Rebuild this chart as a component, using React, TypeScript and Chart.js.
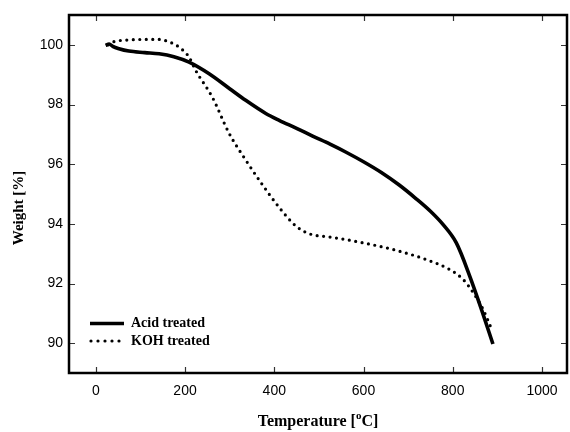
import React, { useEffect, useRef } from "react";
import { Chart, registerables } from "chart.js";

Chart.register(...registerables);

const acidX = [22, 30, 38, 52, 74, 110, 142, 175, 209, 254, 300, 336, 381, 411, 450, 486, 525, 561, 600, 640, 680, 718, 750, 778, 808, 838, 865, 890];
const acidY = [99.98, 100.03, 99.95, 99.87, 99.79, 99.74, 99.7, 99.6, 99.42, 99.03, 98.53, 98.14, 97.7, 97.47, 97.2, 96.94, 96.67, 96.4, 96.08, 95.72, 95.3, 94.84, 94.42, 93.98, 93.36, 92.25, 91.1, 89.97];

const kohX = [28, 36, 44, 70, 110, 142, 164, 187, 209, 224, 261, 299, 336, 374, 411, 449, 480, 524, 561, 600, 666, 741, 793, 823, 846, 868, 887];
const kohY = [100.0, 100.08, 100.12, 100.16, 100.18, 100.18, 100.1, 99.92, 99.59, 99.14, 98.25, 97.03, 96.14, 95.3, 94.55, 93.92, 93.66, 93.56, 93.47, 93.36, 93.14, 92.8, 92.47, 92.14, 91.69, 91.13, 90.47];

const xTicks = [0, 200, 400, 600, 800, 1000];
const yTicks = [90, 92, 94, 96, 98, 100];
const seriesLabels = ["Acid treated", "KOH treated"];
const xTitle = "Temperature [";
const xTitleSup = "o";
const xTitleEnd = "C]";
const yTitle = "Weight [%]";

const toPts = (xs: number[], ys: number[]) => xs.map((x, i) => ({ x, y: ys[i] }));

const framePlugin = {
  id: "frame",
  afterDraw(chart: any) {
    const { ctx, chartArea: a } = chart;
    const sx = chart.scales.x;
    const sy = chart.scales.y;
    ctx.save();
    ctx.strokeStyle = "#333";
    ctx.lineWidth = 1.2;
    ctx.beginPath();
    sx.ticks.forEach((t: any) => {
      const px = Math.round(sx.getPixelForValue(t.value)) + 0.5;
      ctx.moveTo(px, a.top);
      ctx.lineTo(px, a.top + 6);
      ctx.moveTo(px, a.bottom);
      ctx.lineTo(px, a.bottom - 6);
    });
    sy.ticks.forEach((t: any) => {
      const py = Math.round(sy.getPixelForValue(t.value)) + 0.5;
      ctx.moveTo(a.left, py);
      ctx.lineTo(a.left + 6, py);
      ctx.moveTo(a.right, py);
      ctx.lineTo(a.right - 6, py);
    });
    ctx.stroke();
    ctx.strokeStyle = "#000";
    ctx.lineWidth = 2.5;
    ctx.strokeRect(a.left, a.top, a.right - a.left, a.bottom - a.top);

    ctx.fillStyle = "#000";
    const bold = (s: number) => `bold ${s}px "Liberation Serif", "Times New Roman", serif`;
    ctx.font = bold(16);
    ctx.textBaseline = "middle";
    const w1 = ctx.measureText(xTitle).width;
    ctx.font = bold(11);
    const w2 = ctx.measureText(xTitleSup).width;
    ctx.font = bold(16);
    const w3 = ctx.measureText(xTitleEnd).width;
    const total = w1 + w2 + w3;
    const cx = (a.left + a.right) / 2;
    let x0 = cx - total / 2;
    const ty = 422;
    ctx.textAlign = "left";
    ctx.fillText(xTitle, x0, ty);
    x0 += w1;
    ctx.font = bold(11);
    ctx.fillText(xTitleSup, x0, ty - 6);
    x0 += w2;
    ctx.font = bold(16);
    ctx.fillText(xTitleEnd, x0, ty);

    ctx.save();
    ctx.translate(19, 208);
    ctx.rotate(-Math.PI / 2);
    ctx.textAlign = "center";
    ctx.font = bold(15);
    ctx.fillText(yTitle, 0, 0);
    ctx.restore();

    const ly1 = 323.5;
    const ly2 = 341;
    ctx.strokeStyle = "#000";
    ctx.lineWidth = 3.5;
    ctx.lineCap = "butt";
    ctx.beginPath();
    ctx.moveTo(90, ly1);
    ctx.lineTo(124, ly1);
    ctx.stroke();
    ctx.fillStyle = "#000";
    for (let i = 0; i < 5; i++) {
      ctx.beginPath();
      ctx.arc(91 + i * 7, ly2, 1.6, 0, Math.PI * 2);
      ctx.fill();
    }
    ctx.font = bold(14);
    ctx.textAlign = "left";
    ctx.fillText(chart.data.datasets[0].label, 131, ly1);
    ctx.fillText(chart.data.datasets[1].label, 131, ly2);
    ctx.restore();
  },
};

export default function App() {
  const ref = useRef<HTMLCanvasElement | null>(null);
  useEffect(() => {
    if (!ref.current) return;
    const chart = new Chart(ref.current, {
      type: "scatter",
      data: {
        datasets: [
          {
            label: seriesLabels[0],
            data: toPts(acidX, acidY),
            showLine: true,
            borderColor: "#000",
            borderWidth: 3.6,
            pointRadius: 0,
            tension: 0.4,
            cubicInterpolationMode: "monotone",
          } as any,
          {
            label: seriesLabels[1],
            data: toPts(kohX, kohY),
            showLine: true,
            borderColor: "#000",
            borderWidth: 3.2,
            borderDash: [0, 6.5],
            borderCapStyle: "round",
            pointRadius: 0,
            tension: 0.4,
            cubicInterpolationMode: "monotone",
          } as any,
        ],
      },
      options: {
        animation: false,
        responsive: false,
        layout: { padding: { top: 15, right: 3, left: 0, bottom: 0 } },
        plugins: { legend: { display: false }, tooltip: { enabled: false } },
        scales: {
          x: {
            type: "linear",
            min: -60,
            max: 1056,
            afterBuildTicks: (s: any) => {
              s.ticks = xTicks.map((v) => ({ value: v }));
            },
            afterFit: (s: any) => {
              s.height = 59;
            },
            grid: { display: false, drawTicks: false },
            border: { display: false },
            ticks: {
              padding: 10,
              color: "#000",
              font: { family: '"Liberation Sans", Arial, sans-serif', size: 14 },
              maxRotation: 0,
              callback: (v: any) => String(v),
            },
          },
          y: {
            type: "linear",
            min: 89,
            max: 101,
            afterBuildTicks: (s: any) => {
              s.ticks = yTicks.map((v) => ({ value: v }));
            },
            afterFit: (s: any) => {
              s.width = 69;
            },
            grid: { display: false, drawTicks: false },
            border: { display: false },
            ticks: {
              padding: 6,
              color: "#000",
              font: { family: '"Liberation Sans", Arial, sans-serif', size: 14 },
              callback: (v: any) => String(v),
            },
          },
        },
      },
      plugins: [framePlugin],
    });
    return () => chart.destroy();
  }, []);
  return (
    <div style={{ position: "absolute", left: 0, top: 0, width: 570, height: 432, background: "#fff" }}>
      <canvas ref={ref} width={570} height={432} style={{ width: 570, height: 432, display: "block" }} />
    </div>
  );
}
